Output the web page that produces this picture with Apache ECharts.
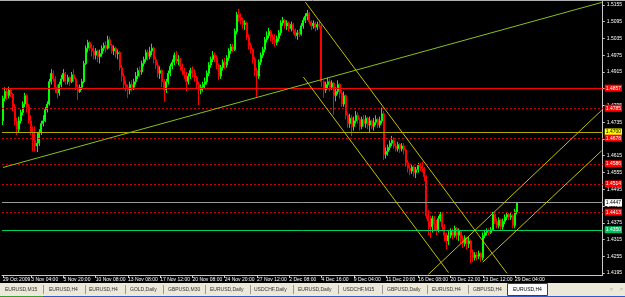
<!DOCTYPE html>
<html>
<head>
<meta charset="utf-8">
<script src="https://cdn.jsdelivr.net/npm/echarts@6/dist/echarts.min.js"></script>
<style>
html,body{margin:0;padding:0;background:#000;}
#c{width:625px;height:297px;}
</style>
</head>
<body>
<div id="c"></div>
<script>
// ---- data (EURUSD H4) ----
const opens = [
1.4740,1.4820,1.4845,1.4830,1.4850,1.4835,1.4790,1.4740,1.4710,1.4740,
1.4770,1.4800,1.4830,1.4790,1.4740,1.4700,1.4670,1.4650,1.4660,1.4700,
1.4730,1.4740,1.4780,1.4800,1.4880,1.4910,1.4890,1.4860,1.4840,1.4870,
1.4890,1.4910,1.4880,1.4895,1.4880,1.4905,1.4890,1.4860,1.4845,1.4860,
1.4880,1.4945,1.5000,1.5020,1.5000,
1.4990,1.4975,1.4990,1.4970,
1.4980,1.5000,1.5010,1.5000,1.5030,1.5010,1.4990,1.5000,1.4980,1.4985,
1.4930,1.4900,1.4870,1.4860,1.4850,1.4870,1.4860,1.4880,1.4900,1.4920,
1.4915,1.4945,1.4960,1.4985,1.4970,1.4990,1.5000,1.4960,1.4940,1.4910,
1.4920,1.4880,1.4850,1.4880,1.4910,1.4935,1.4950,1.4975,1.4955,1.4960,
1.4935,1.4920,1.4905,1.4880,1.4900,1.4920,1.4910,1.4895,1.4870,1.4850,
1.4860,1.4870,1.4880,1.4910,1.4940,1.4960,1.4975,1.4965,1.4940,1.4900,
1.4930,1.4950,1.4940,1.4965,1.4990,1.5005,1.4995,1.5060,1.5120,1.5110,
1.5100,1.5085,1.5090,1.5040,1.5010,1.4995,1.4960,1.4920,1.4900,1.4950,
1.4975,1.4995,1.5030,1.5045,1.5060,1.5040,
1.5030,1.5020,1.5035,
1.5055,1.5090,1.5100,1.5080,1.5090,1.5070,1.5085,1.5065,1.5045,1.5055,
1.5050,1.5080,1.5100,1.5115,1.5125,1.5095,1.5080,1.5090,1.5075,1.5085,
1.5080,1.4880,1.4850,1.4870,1.4880,1.4860,1.4875,1.4830,1.4845,1.4870,
1.4840,1.4800,1.4830,1.4760,1.4730,1.4750,1.4720,1.4740,1.4760,1.4745,
1.4720,1.4745,1.4730,1.4750,1.4725,1.4740,1.4720,1.4735,1.4745,1.4725,
1.4740,1.4765,1.4620,1.4630,1.4645,1.4660,1.4670,1.4650,1.4640,1.4655,
1.4640,1.4650,1.4635,1.4590,1.4570,1.4560,1.4575,1.4555,1.4565,1.4580,
1.4575,1.4570,1.4540,1.4400,1.4380,1.4360,1.4390,1.4370,1.4350,1.4390,
1.4405,1.4360,1.4330,1.4310,1.4330,1.4345,
1.4330,1.4355,1.4330,
1.4345,1.4320,1.4300,1.4320,1.4300,1.4310,1.4270,1.4250,1.4260,1.4255,
1.4265,1.4250,1.4330,1.4340,1.4345,1.4340,1.4350,1.4405,1.4380,1.4365,
1.4385,1.4360,1.4380,1.4395,1.4405,1.4395,1.4400,1.4365,1.4415
];
const closes = [
1.4820,1.4845,1.4830,1.4850,1.4835,1.4790,1.4740,1.4710,1.4740,1.4770,
1.4800,1.4830,1.4790,1.4740,1.4700,1.4670,1.4650,1.4660,1.4700,1.4730,
1.4740,1.4780,1.4800,1.4880,1.4910,1.4890,1.4860,1.4840,1.4870,1.4890,
1.4910,1.4880,1.4895,1.4880,1.4905,1.4890,1.4860,1.4845,1.4860,1.4880,
1.4945,1.5000,1.5020,1.5000,1.4990,
1.4975,1.4990,1.4970,1.4980,
1.5000,1.5010,1.5000,1.5030,1.5010,1.4990,1.5000,1.4980,1.4985,1.4930,
1.4900,1.4870,1.4860,1.4850,1.4870,1.4860,1.4880,1.4900,1.4920,1.4915,
1.4945,1.4960,1.4985,1.4970,1.4990,1.5000,1.4960,1.4940,1.4910,1.4920,
1.4880,1.4850,1.4880,1.4910,1.4935,1.4950,1.4975,1.4955,1.4960,1.4935,
1.4920,1.4905,1.4880,1.4900,1.4920,1.4910,1.4895,1.4870,1.4850,1.4860,
1.4870,1.4880,1.4910,1.4940,1.4960,1.4975,1.4965,1.4940,1.4900,1.4930,
1.4950,1.4940,1.4965,1.4990,1.5005,1.4995,1.5060,1.5120,1.5110,1.5100,
1.5085,1.5090,1.5040,1.5010,1.4995,1.4960,1.4920,1.4900,1.4950,1.4975,
1.4995,1.5030,1.5045,1.5060,1.5040,1.5030,
1.5020,1.5035,1.5055,
1.5090,1.5100,1.5080,1.5090,1.5070,1.5085,1.5065,1.5045,1.5055,1.5050,
1.5080,1.5100,1.5115,1.5125,1.5095,1.5080,1.5090,1.5075,1.5085,1.5080,
1.4880,1.4850,1.4870,1.4880,1.4860,1.4875,1.4830,1.4845,1.4870,1.4840,
1.4800,1.4830,1.4760,1.4730,1.4750,1.4720,1.4740,1.4760,1.4745,1.4720,
1.4745,1.4730,1.4750,1.4725,1.4740,1.4720,1.4735,1.4745,1.4725,1.4740,
1.4765,1.4620,1.4630,1.4645,1.4660,1.4670,1.4650,1.4640,1.4655,1.4640,
1.4650,1.4635,1.4590,1.4570,1.4560,1.4575,1.4555,1.4565,1.4580,1.4575,
1.4570,1.4540,1.4400,1.4380,1.4360,1.4390,1.4370,1.4350,1.4390,1.4405,
1.4360,1.4330,1.4310,1.4330,1.4345,1.4330,
1.4355,1.4330,1.4345,
1.4320,1.4300,1.4320,1.4300,1.4310,1.4270,1.4250,1.4260,1.4255,1.4265,
1.4250,1.4330,1.4340,1.4345,1.4340,1.4350,1.4405,1.4380,1.4365,1.4385,
1.4360,1.4380,1.4395,1.4405,1.4395,1.4400,1.4365,1.4415,1.4447
];
const lows = [
1.4725,1.4810,1.4815,1.4820,1.4825,1.4775,1.4725,1.4690,1.4700,1.4730,
1.4760,1.4790,1.4770,1.4730,1.4690,1.4630,1.4630,1.4628,1.4650,1.4690,
1.4720,1.4735,1.4770,1.4795,1.4870,1.4880,1.4840,1.4820,1.4830,1.4860,
1.4880,1.4870,1.4870,1.4865,1.4875,1.4880,1.4850,1.4815,1.4840,1.4850,
1.4875,1.4940,1.4985,1.4990,1.4970,
1.4960,1.4960,1.4950,1.4945,
1.4970,1.4990,1.4985,1.4995,1.5000,1.4980,1.4975,1.4965,1.4960,1.4920,
1.4880,1.4855,1.4845,1.4822,1.4835,1.4845,1.4850,1.4870,1.4890,1.4895,
1.4905,1.4935,1.4950,1.4955,1.4960,1.4975,1.4945,1.4925,1.4895,1.4890,
1.4860,1.4808,1.4840,1.4870,1.4900,1.4925,1.4940,1.4945,1.4940,1.4920,
1.4905,1.4890,1.4845,1.4870,1.4890,1.4895,1.4880,1.4855,1.4797,1.4835,
1.4845,1.4855,1.4870,1.4900,1.4930,1.4950,1.4950,1.4925,1.4885,1.4890,
1.4920,1.4925,1.4930,1.4955,1.4980,1.4985,1.4990,1.5050,1.5095,1.5085,
1.5070,1.5065,1.5030,1.4995,1.4980,1.4945,1.4900,1.4826,1.4890,1.4940,
1.4965,1.4985,1.5020,1.5035,1.5025,1.5015,
1.5005,1.5010,1.5025,
1.5045,1.5080,1.5070,1.5065,1.5060,1.5060,1.5050,1.5035,1.5030,1.5040,
1.5045,1.5070,1.5090,1.5100,1.5085,1.5065,1.5070,1.5060,1.5065,1.5070,
1.4860,1.4822,1.4840,1.4855,1.4845,1.4850,1.4762,1.4810,1.4835,1.4820,
1.4790,1.4790,1.4745,1.4715,1.4715,1.4685,1.4705,1.4730,1.4730,1.4705,
1.4710,1.4720,1.4715,1.4710,1.4700,1.4710,1.4705,1.4725,1.4715,1.4715,
1.4730,1.4600,1.4605,1.4615,1.4635,1.4650,1.4640,1.4630,1.4630,1.4625,
1.4630,1.4620,1.4575,1.4555,1.4545,1.4550,1.4540,1.4535,1.4555,1.4560,
1.4555,1.4525,1.4390,1.4330,1.4320,1.4340,1.4345,1.4330,1.4340,1.4380,
1.4345,1.4310,1.4280,1.4295,1.4320,1.4315,
1.4322,1.4315,1.4310,
1.4300,1.4285,1.4290,1.4280,1.4285,1.4231,1.4235,1.4240,1.4240,1.4245,
1.4235,1.4240,1.4320,1.4330,1.4330,1.4335,1.4345,1.4370,1.4355,1.4355,
1.4350,1.4350,1.4370,1.4385,1.4385,1.4385,1.4355,1.4355,1.4405
];
const highs = [
1.4830,1.4860,1.4855,1.4862,1.4858,1.4840,1.4800,1.4750,1.4755,1.4780,
1.4810,1.4840,1.4835,1.4800,1.4760,1.4720,1.4720,1.4700,1.4710,1.4740,
1.4760,1.4790,1.4810,1.4890,1.4925,1.4920,1.4900,1.4870,1.4880,1.4905,
1.4925,1.4915,1.4905,1.4900,1.4915,1.4925,1.4895,1.4870,1.4870,1.4890,
1.4955,1.5010,1.5030,1.5025,1.5015,
1.5010,1.5000,1.4995,1.4995,
1.5010,1.5020,1.5025,1.5045,1.5040,1.5015,1.5010,1.5005,1.4995,1.4990,
1.4940,1.4910,1.4885,1.4870,1.4880,1.4885,1.4890,1.4915,1.4930,1.4935,
1.4955,1.4970,1.4995,1.4995,1.5005,1.5016,1.5005,1.4970,1.4950,1.4935,
1.4925,1.4890,1.4890,1.4920,1.4945,1.4960,1.4985,1.4990,1.4975,1.4965,
1.4945,1.4930,1.4915,1.4910,1.4930,1.4935,1.4925,1.4900,1.4880,1.4870,
1.4880,1.4895,1.4920,1.4950,1.4970,1.4990,1.4985,1.4975,1.4945,1.4940,
1.4960,1.4965,1.4975,1.5000,1.5015,1.5015,1.5070,1.5130,1.5141,1.5125,
1.5110,1.5100,1.5095,1.5050,1.5020,1.5000,1.4970,1.4930,1.4960,1.4985,
1.5005,1.5040,1.5060,1.5073,1.5065,1.5050,
1.5050,1.5045,1.5065,
1.5100,1.5112,1.5105,1.5100,1.5095,1.5095,1.5090,1.5070,1.5065,1.5070,
1.5090,1.5110,1.5125,1.5137,1.5130,1.5100,1.5100,1.5095,1.5095,1.5100,
1.5085,1.4885,1.4880,1.4895,1.4890,1.4885,1.4880,1.4860,1.4885,1.4875,
1.4850,1.4845,1.4835,1.4770,1.4765,1.4760,1.4755,1.4775,1.4770,1.4750,
1.4755,1.4760,1.4760,1.4755,1.4755,1.4745,1.4750,1.4760,1.4750,1.4755,
1.4787,1.4775,1.4645,1.4655,1.4670,1.4686,1.4680,1.4660,1.4665,1.4660,
1.4660,1.4660,1.4640,1.4600,1.4580,1.4585,1.4580,1.4575,1.4590,1.4590,
1.4593,1.4575,1.4545,1.4420,1.4400,1.4400,1.4400,1.4385,1.4400,1.4414,
1.4410,1.4370,1.4340,1.4345,1.4355,1.4355,
1.4365,1.4360,1.4355,
1.4350,1.4330,1.4330,1.4325,1.4325,1.4315,1.4280,1.4270,1.4270,1.4275,
1.4270,1.4340,1.4350,1.4355,1.4355,1.4360,1.4414,1.4410,1.4390,1.4395,
1.4390,1.4390,1.4405,1.4414,1.4410,1.4412,1.4405,1.4425,1.4450
];

// time-axis labels and the bar slots they sit on
const dateLabels = ['29 Oct 2009','3 Nov 04:00','5 Nov 20:00','10 Nov 08:00','13 Nov 08:00',
  '17 Nov 12:00','20 Nov 08:00','24 Nov 20:00','27 Nov 12:00','2 Dec 08:00','4 Dec 16:00',
  '9 Dec 04:00','11 Dec 20:00','16 Dec 08:00','20 Dec 22:00','23 Dec 12:00','29 Dec 04:00'];
const dateLabelSlots = [0,14,30,46,62,78,94,110,126,142,158,174,190,206,222,238,254];
const slotCount = 298;

// price-axis ticks
const priceTicks = [1.5155,1.5095,1.5035,1.4975,1.4915,1.4855,1.4795,1.4735,1.4675,
  1.4615,1.4555,1.4495,1.4435,1.4375,1.4315,1.4255,1.4195];

// horizontal levels: value and kind
const levelValues = [1.4857,1.4785,1.4700,1.4678,1.4586,1.4514,1.4447,1.4413,1.4350];
const levelKinds  = ['red','reddot','yellow','reddot','reddot','reddot','bid','reddot','green'];

// trend lines: [startSlot, startPrice, endSlot, endPrice, kind]
const trendLines = [
  [0,1.4573,297,1.5164,'lime'],
  [150,1.5165,250,1.4194,'yellow'],
  [149,1.4897,221,1.4197,'yellow'],
  [211,1.4190,297,1.4778,'yellow'],
  [238,1.4234,297,1.4633,'yellow']
];

const tabNames = ['EURUSD,M15','EURUSD,H4','EURUSD,H4','GOLD,Daily','GBPUSD,M30','EURUSD,Daily',
  'USDCHF,Daily','EURUSD,Daily','USDCHF,M15','GBPUSD,Daily','EURUSD,H4','GBPUSD,H4','EURUSD,H4'];

// ---- build ----
const FONT = 'Liberation Sans';
const slots = Array.from({length: slotCount}, (_, i) => String(i));
const labelMap = new Map(dateLabelSlots.map((s, k) => [s, dateLabels[k]]));
const ohlc = opens.map((o, i) => [o, closes[i], lows[i], highs[i]]);

const levelStyle = {
  red:    {line:{color:'#ff0000', type:'solid'},  bg:'#ff0000', fg:'#ffffff'},
  reddot: {line:{color:'#d00000', type:[2,2]},    bg:'#ff0000', fg:'#ffffff'},
  yellow: {line:{color:'#b4aa00', type:'solid'},  bg:'#ffff00', fg:'#000000'},
  bid:    {line:{color:'#9a9a9a', type:'solid'},  bg:'#ffffff', fg:'#000000'},
  green:  {line:{color:'#00d060', type:'solid'},  bg:'#00c060', fg:'#ffffff'}
};
const trendColor = {lime:'#86c11e', yellow:'#c4c000'};

const markData = [];
levelValues.forEach((v, k) => {
  const st = levelStyle[levelKinds[k]];
  markData.push({
    yAxis: v,
    lineStyle: {color: st.line.color, type: st.line.type, width: 1},
    label: {show: true, position: 'end', distance: 2, formatter: () => v.toFixed(4),
      backgroundColor: st.bg, color: st.fg, fontSize: 5, fontFamily: FONT, padding: [1, 1, 1, 1]}
  });
});
trendLines.forEach(t => {
  markData.push([
    {coord: [t[0], t[1]], lineStyle: {color: trendColor[t[4]], type: 'solid', width: 1}, label: {show: false}},
    {coord: [t[2], t[3]]}
  ]);
});

const graphics = [];
graphics.push({type:'line', shape:{x1:0, y1:0.5, x2:625, y2:0.5}, style:{stroke:'#b0b0b0', lineWidth:1}, silent:true});
graphics.push({type:'rect', shape:{x:0, y:283, width:625, height:14}, style:{fill:'#ece9d8'}, silent:true});
const tabTextX = [5,49,89,130,168,210,254,298,343,387,432,473,513];
const sepX = [43,85,125,163,205,250,293,338,382,427,468];
sepX.forEach(x => graphics.push({type:'line', shape:{x1:x+0.5, y1:285, x2:x+0.5, y2:294}, style:{stroke:'#9a9a9a', lineWidth:1}, silent:true}));
graphics.push({type:'rect', shape:{x:507.5, y:283.5, width:40, height:12}, style:{fill:'#ffffff', stroke:'#404040', lineWidth:1}, silent:true});
tabNames.forEach((n, k) => graphics.push({type:'text', x: tabTextX[k], y: 290, style:{text:n, fill: k === tabNames.length-1 ? '#000' : '#333', font: '5px ' + FONT, textVerticalAlign:'middle'}, silent:true}));
graphics.push({type:'text', x:610, y:290, style:{text:'<', fill:'#909090', font:'5px ' + FONT, textVerticalAlign:'middle'}, silent:true});
graphics.push({type:'text', x:620, y:290, style:{text:'>', fill:'#909090', font:'5px ' + FONT, textVerticalAlign:'middle'}, silent:true});
graphics.push({type:'line', shape:{x1:0, y1:296.5, x2:43, y2:296.5}, style:{stroke:'#30a030', lineWidth:1}, silent:true});
graphics.push({type:'line', shape:{x1:43, y1:296.5, x2:625, y2:296.5}, style:{stroke:'#2a5cd0', lineWidth:1}, silent:true});

const chart = echarts.init(document.getElementById('c'), null, {renderer:'canvas', width:625, height:297});
chart.setOption({
  backgroundColor: '#000000',
  animation: false,
  grid: {left: 0, right: 22, top: 1, bottom: 22, containLabel: false},
  xAxis: {
    type: 'category', data: slots, boundaryGap: true,
    axisLine: {show: true, lineStyle: {color: '#c8c8c8', width: 1}},
    axisTick: {show: true, alignWithLabel: true, length: 3, interval: (i) => labelMap.has(i), lineStyle: {color: '#c8c8c8'}},
    axisLabel: {show: true, interval: (i) => labelMap.has(i), formatter: (v, i) => labelMap.get(i) || '',
      color: '#ffffff', fontSize: 5, fontFamily: FONT, align: 'left', margin: 2},
    splitLine: {show: false}
  },
  yAxis: {
    type: 'value', position: 'right', min: 1.4188, max: 1.5169,
    axisLine: {show: true, lineStyle: {color: '#c8c8c8', width: 1}},
    axisTick: {show: true, length: 2, customValues: priceTicks, lineStyle: {color: '#c8c8c8'}},
    axisLabel: {show: true, customValues: priceTicks, formatter: v => Number(v).toFixed(4),
      color: '#ffffff', fontSize: 5, fontFamily: FONT, margin: 4},
    splitLine: {show: false}
  },
  series: [{
    type: 'candlestick',
    data: ohlc,
    barWidth: 1.5,
    itemStyle: {color: '#00ff00', color0: '#ff0000', borderColor: '#00ff00', borderColor0: '#ff0000', borderColorDoji: '#00ff00', borderWidth: 1},
    emphasis: {disabled: true},
    markLine: {silent: true, symbol: ['none', 'none'], animation: false, precision: 4, data: markData}
  }],
  graphic: graphics
});
</script>
</body>
</html>
